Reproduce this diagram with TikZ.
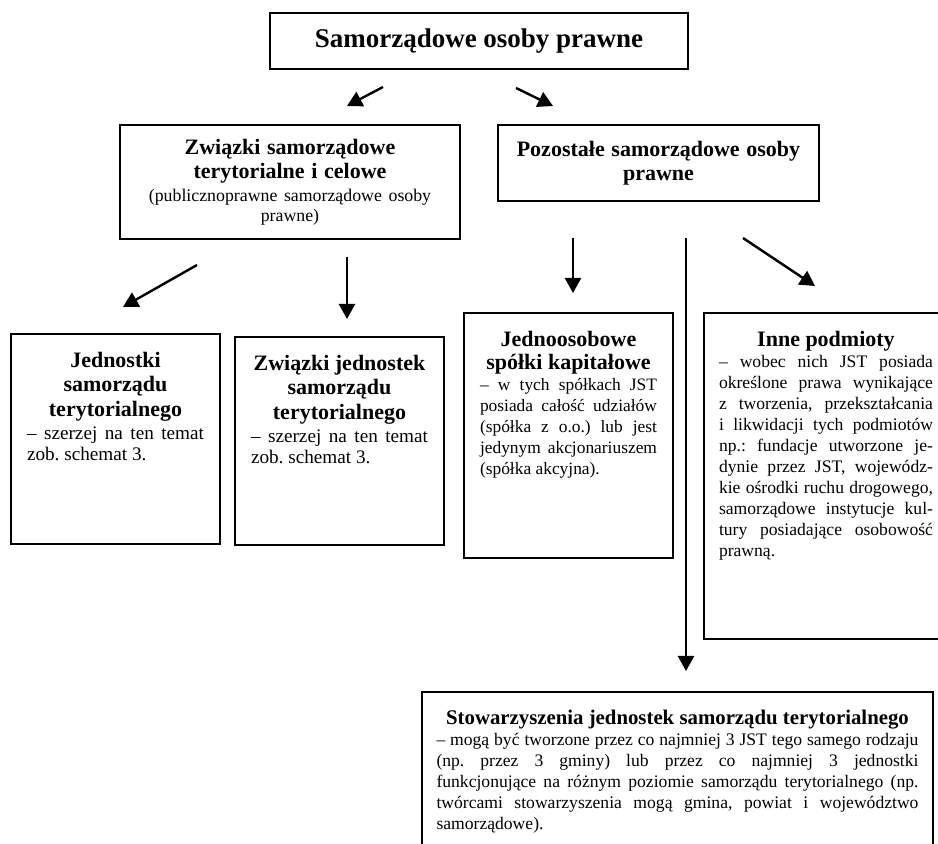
\documentclass[tikz,border=0pt]{standalone}
\usepackage{fontspec}
\setmainfont{Liberation Serif}
\usetikzlibrary{arrows.meta}

\newcommand{\titlef}[1][11.8]{\fontsize{11}{#1}\selectfont\bfseries}
\newcommand{\bodyf}[1][8.8]{\fontsize{#1}{10.5}\selectfont}
\hyphenpenalty=10000
\frenchspacing

\tikzset{
  head/.style={draw, line width=1pt, anchor=north west, align=center, inner xsep=8pt, inner ysep=0pt},
  card/.style={draw, line width=1pt, anchor=north west, inner xsep=8pt, inner ysep=9pt},
  arrow/.style={-{Triangle[length=7.5pt,width=8pt]}, line width=1.2pt},
}

\begin{document}
\begin{tikzpicture}[x=0.5pt, y=-0.5pt]
  \useasboundingbox (0,0) rectangle (938,844);
  \clip (0,0) rectangle (938,844);

  % top level
  \node[head, text width=193pt, minimum height=28pt] (sop) at (269,12)
    {\fontsize{13.5}{15}\selectfont\bfseries Samorządowe osoby prawne};

  % second level
  \node[head, text width=154pt, minimum height=57pt] (zst) at (119,124)
    {{\titlef Związki samorządowe\\ terytorialne i celowe\par}\vspace{1.5pt}
     {\fontsize{8.9}{10}\selectfont (publicznoprawne samorządowe osoby\\ prawne)\par}};
  \node[head, text width=144.5pt, minimum height=38pt] (pos) at (497,124)
    {\titlef Pozostałe samorządowe osoby\\ prawne};

  % third level
  \node[card] (jst) at (10,333) {\parbox[c][87pt][t]{88.5pt}{%
    {\centering\titlef[12.2] Jednostki\\ samorządu\\ terytorialnego\par}\vspace{1pt}
    \bodyf[9.6] – szerzej na ten temat\linebreak zob. schemat 3.}};
  \node[card] (zjst) at (234,336) {\parbox[c][86pt][t]{88.5pt}{%
    {\centering\titlef[12.2] Związki jednostek\\ samorządu\\ terytorialnego\par}\vspace{1pt}
    \bodyf[9.6] – szerzej na ten temat\linebreak zob. schemat 3.}};
  \node[card] (jsk) at (463,312) {\parbox[c][104.5pt][t]{88.5pt}{%
    {\centering\titlef Jednoosobowe\\ spółki kapitałowe\par}
    \bodyf[8.7] – w tych spółkach JST\linebreak posiada całość udziałów\linebreak
    (spółka z o.o.) lub jest\linebreak jedynym akcjonariuszem\linebreak
    (spółka akcyjna).}};
  \node[card, inner xsep=7.5pt] (inne) at (703,312) {\parbox[c][145pt][t]{107pt}{%
    {\centering\titlef Inne podmioty\par}
    \bodyf – wobec nich JST posiada\linebreak określone prawa wynikające\linebreak
    z tworzenia, przekształcania\linebreak i likwidacji tych podmiotów\linebreak
    np.: fundacje utworzone je-\linebreak dynie przez JST, wojewódz-\linebreak
    kie ośrodki ruchu drogowego,\linebreak samorządowe instytucje kul-\linebreak
    tury posiadające osobowość\linebreak prawną.}};

  % bottom
  \node[card, inner xsep=7.25pt] (sjst) at (421,691) {\parbox[c][80pt][t]{241pt}{%
    {\centering\fontsize{10.4}{11}\selectfont\bfseries Stowarzyszenia jednostek samorządu terytorialnego\par}
    \bodyf – mogą być tworzone przez co najmniej 3 JST tego samego rodzaju\linebreak
    (np. przez 3 gminy) lub przez co najmniej 3 jednostki\linebreak
    funkcjonujące na różnym poziomie samorządu terytorialnego (np.\linebreak
    twórcami stowarzyszenia mogą gmina, powiat i województwo\linebreak
    samorządowe).}};

  % arrows
  \coordinate (a1) at (383,87);
  \coordinate (b1) at (347,106);
  \coordinate (a2) at (516,88);
  \coordinate (b2) at (553,106);
  \coordinate (a3) at (197,265);
  \coordinate (b3) at (123,307);
  \coordinate (a4) at (347,257);
  \coordinate (b4) at (347,319);
  \coordinate (a5) at (573,238);
  \coordinate (b5) at (573,293);
  \coordinate (a6) at (686,238);
  \coordinate (b6) at (686,671);
  \coordinate (a7) at (743,238);
  \coordinate (b7) at (815,286);

  \draw[arrow] (a1) -- (b1);
  \draw[arrow] (a2) -- (b2);
  \draw[arrow] (a3) -- (b3);
  \draw[arrow] (a4) -- (b4);
  \draw[arrow] (a5) -- (b5);
  \draw[arrow] (a6) -- (b6);
  \draw[arrow] (a7) -- (b7);
\end{tikzpicture}
\end{document}
